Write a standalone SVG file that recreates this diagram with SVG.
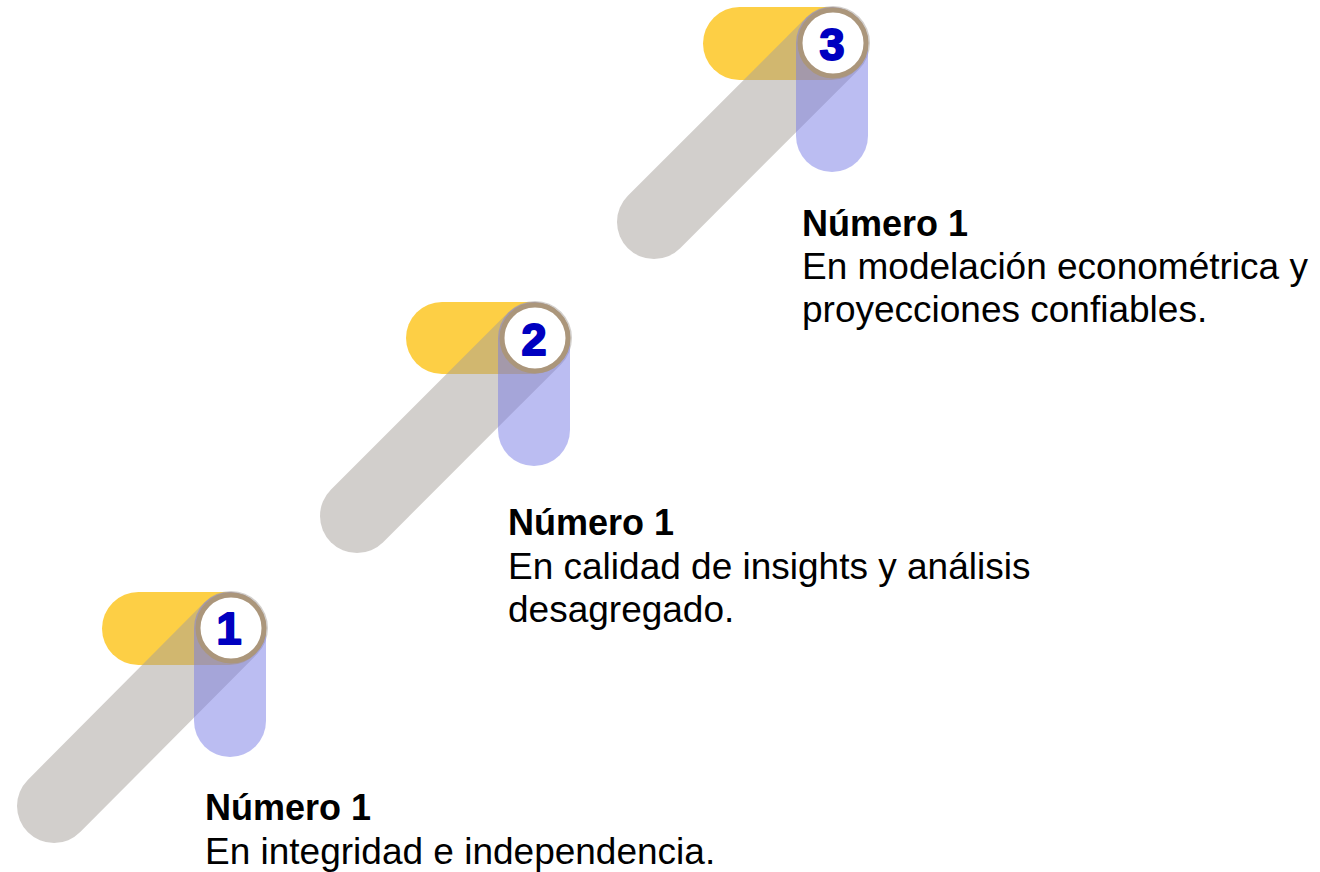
<svg xmlns="http://www.w3.org/2000/svg" width="1320" height="872" viewBox="0 0 1320 872">
<style>
.yel{fill:#FDCF45}
.diag{stroke:#a59f99;stroke-opacity:0.5;stroke-width:74;stroke-linecap:round;fill:none}
.blu{fill:#777be5;fill-opacity:0.5}
.disc{fill:#ffffff;stroke:#ab967b;stroke-width:5}
.num{font-family:"Liberation Sans",Arial,sans-serif;font-weight:bold;font-size:45px;fill:#0000c0;stroke:#0000c0;stroke-width:2;stroke-linejoin:round;text-anchor:middle}
.ttl{font-family:"Liberation Sans",Arial,sans-serif;font-weight:bold;font-size:36px;fill:#000}
.body{font-family:"Liberation Sans",Arial,sans-serif;font-size:37px;fill:#000}
</style>
<rect width="1320" height="872" fill="#ffffff"/>
<g id="step1">
  <rect class="yel" x="102" y="592" width="164" height="73" rx="36.5"/>
  <line class="diag" x1="54" y1="806" x2="231" y2="628"/>
  <rect class="blu" x="194" y="592" width="72" height="165" rx="36"/>
  <circle class="disc" cx="231" cy="628" r="33"/>
  <text class="num" x="229" y="644">1</text>
  <text class="ttl" x="205" y="820">Número 1</text>
  <text class="body" x="205" y="864">En integridad e independencia.</text>
</g>
<g id="step2">
  <rect class="yel" x="406" y="302" width="164" height="72" rx="36"/>
  <line class="diag" x1="357" y1="516" x2="535" y2="338"/>
  <rect class="blu" x="498" y="302" width="72" height="164" rx="36"/>
  <circle class="disc" cx="535" cy="338" r="33"/>
  <text class="num" x="534" y="355">2</text>
  <text class="ttl" x="508" y="535">Número 1</text>
  <text class="body" x="508" y="579">En calidad de insights y análisis</text>
  <text class="body" x="508" y="622">desagregado.</text>
</g>
<g id="step3">
  <rect class="yel" x="703" y="7" width="165" height="73" rx="36.5"/>
  <line class="diag" x1="654" y1="222" x2="833" y2="43"/>
  <rect class="blu" x="796" y="7" width="72" height="165" rx="36"/>
  <circle class="disc" cx="833" cy="43" r="33"/>
  <text class="num" x="832" y="60">3</text>
  <text class="ttl" x="802" y="236">Número 1</text>
  <text class="body" x="802" y="279">En modelación econométrica y</text>
  <text class="body" x="802" y="322">proyecciones confiables.</text>
</g>
<g id="connectors"></g>
</svg>
